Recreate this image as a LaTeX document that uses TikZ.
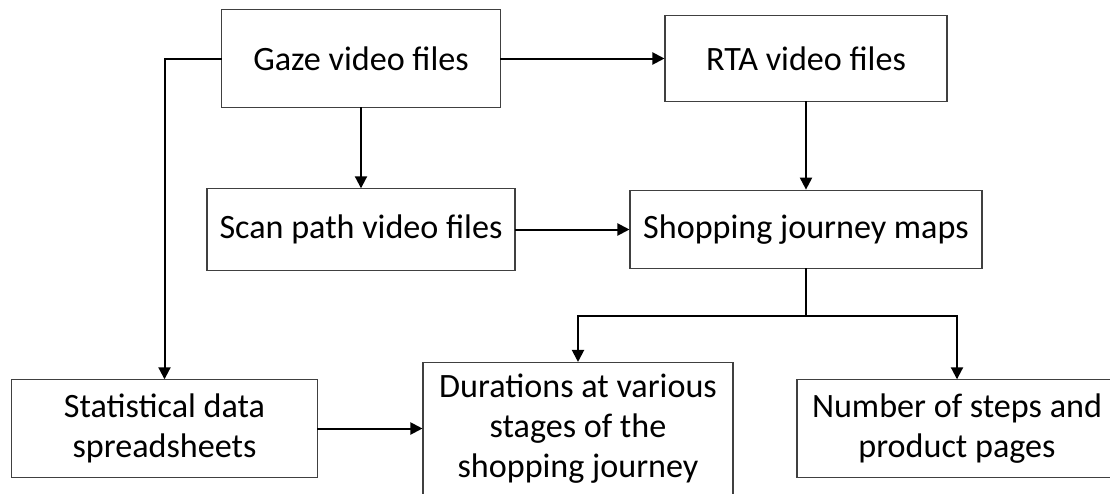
\documentclass[tikz,border=0pt]{standalone}
\usepackage{fontspec}
\setmainfont{Carlito}
\usetikzlibrary{arrows.meta}
\tikzstyle{box} = [
    rectangle,
    draw=black!75,
    line width=0.8pt,
    inner sep=0pt,
    align=center,
    font=\fontsize{25.6}{30}\selectfont
]
\tikzstyle{arrow} = [
    line width=1.5pt,
    line cap=rect,
    -{Triangle[length=9pt, width=9pt]},
    black
]
\tikzstyle{link} = [
    line width=1.5pt,
    line cap=rect,
    black
]

\begin{document}
\begin{tikzpicture}[x=0.75pt, y=-0.75pt]

    \path[use as bounding box, fill=white] (0,0) rectangle (1110,493);
    \clip (0,0) rectangle (1110,493);

    % Nodes
    \node (gaze) [box, minimum width=209pt, minimum height=73pt] at (361,58.5) {Gaze video files};
    \node (rta) [box, minimum width=211.5pt, minimum height=64.5pt] at (806,58.5) {RTA video files};
    \node (scan) [box, minimum width=231pt, minimum height=61pt] at (361,229.5) {Scan path video files};
    \node (shop) [box, minimum width=264pt, minimum height=59pt] at (806,229.5) {Shopping journey maps};
    \node (stats) [box, minimum width=230pt, minimum height=73pt] at (164.5,428.5) {Statistical data\\spreadsheets};
    \node (dur) [box, minimum width=232.5pt, minimum height=99pt] at (578,428.5) {Durations at various\\stages of the\\shopping journey};
    \node (steps) [box, minimum width=240pt, minimum height=73pt] at (957,428.5) {Number of steps and\\product pages};
    \coordinate (split) at (806,316);

    % Edges
    \draw [arrow] (gaze.west) -| (stats.north);
    \draw [arrow] (gaze.east) -- (rta.west);
    \draw [arrow] (gaze.south) -- (scan.north);
    \draw [arrow] (rta.south) -- (shop.north);
    \draw [arrow] (scan.east) -- (shop.west);
    \draw [link] (shop.south) -- (split);
    \draw [arrow] (split) -| (dur.north);
    \draw [arrow] (split) -| (steps.north);
    \draw [arrow] (stats.east) -- (dur.west);

\end{tikzpicture}
\end{document}
